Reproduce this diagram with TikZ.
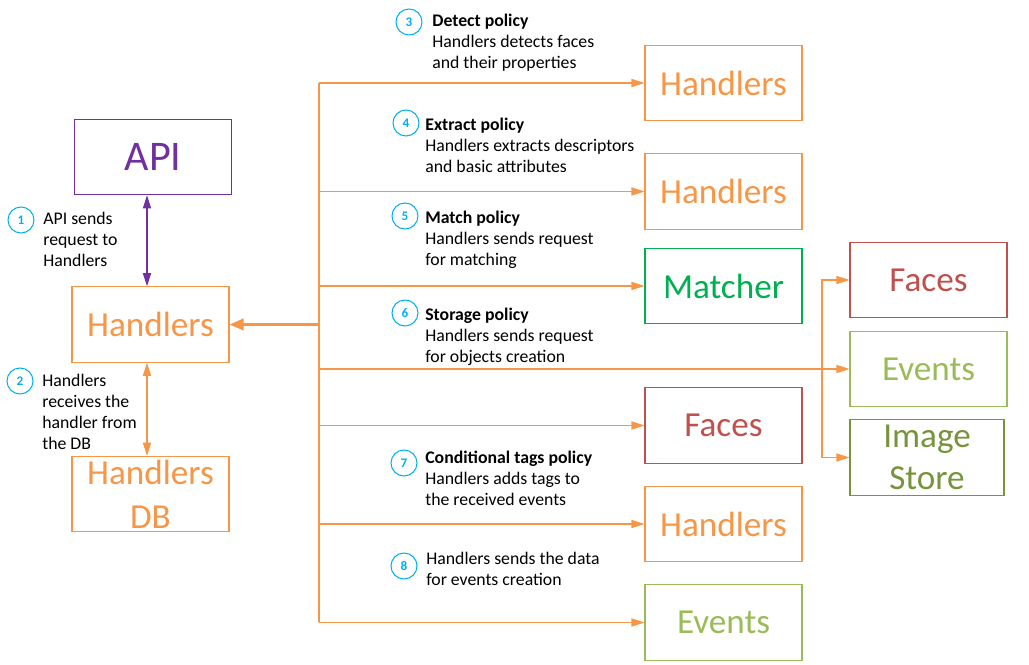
\documentclass[tikz,border=0pt]{standalone}
\usepackage{fontspec}
\setmainfont{Carlito}
\usetikzlibrary{positioning,arrows.meta,calc}
\definecolor{hnd}{HTML}{F79646}
\definecolor{apic}{HTML}{7030A0}
\definecolor{mtc}{HTML}{00B050}
\definecolor{fcs}{HTML}{C0504D}
\definecolor{evt}{HTML}{9BBB59}
\definecolor{imgc}{HTML}{77933C}
\definecolor{numc}{HTML}{00B0F0}
\tikzset{
  >={Triangle[length=7.4pt,width=4.6pt]},
  % --- nodes
  blk/.style   = {draw, line width=0.6pt, align=center, inner sep=0pt,
                  minimum width=3.14cm, minimum height=1.51cm,
                  font=\fontsize{20}{25}\selectfont},
  ablk/.style  = {blk, draw=apic, text=apic, font=\fontsize{24}{28}\selectfont},
  hblk/.style  = {blk, draw=hnd, text=hnd},
  mblk/.style  = {blk, draw=mtc, text=mtc},
  fblk/.style  = {blk, draw=fcs, text=fcs},
  eblk/.style  = {blk, draw=evt, text=evt},
  iblk/.style  = {blk, draw=imgc, text=imgc, font=\fontsize{20}{23.5}\selectfont},
  stepno/.style= {circle, draw=numc, text=numc, line width=0.6pt, minimum size=0.52cm,
                  inner sep=0pt, font=\fontsize{7.5}{8}\selectfont\bfseries},
  lbl/.style   = {anchor=north west, align=left, inner sep=0pt,
                  font=\fontsize{10.1}{12}\selectfont},
  % --- edges
  eline/.style = {draw=hnd, line width=0.6pt},
  e/.style     = {->, eline},
  ed/.style    = {<->, eline},
  ethick/.style= {draw=hnd, line width=1.5pt, -{Triangle[length=8pt,width=6.5pt]}},
  ep/.style    = {<->, draw=apic, line width=0.6pt},
}
\begin{document}
\begin{tikzpicture}[x=0.02cm, y=-0.02cm]
  \useasboundingbox (0,0) rectangle (1029,665);

  % left column
  \node[ablk] (api) at (153,157) {API};
  \node[hblk] (hnd) at (150.5,324.5) {Handlers};
  \node[hblk] (hdb) at (150.5,494) {Handlers\\DB};

  % policy targets
  \node[hblk] (hnd3) at (723.5,83) {Handlers};
  \node[hblk] (hnd4) at (723.5,191.5) {Handlers};
  \node[mblk] (mat)  at (723.5,286) {Matcher};
  \node[fblk] (fcs6) at (723.5,425.5) {Faces};
  \node[hblk] (hnd7) at (723.5,524) {Handlers};
  \node[eblk] (evt8) at (723.5,622.5) {Events};

  % storage
  \node[fblk] (fcsS) at (928.5,280) {Faces};
  \node[eblk] (evtS) at (928.5,369) {Events};
  \node[iblk, minimum width=3.08cm] (imgS) at (927,457.5) {Image\\Store};

  % numbers and notes
  \node[stepno] (n1) at (21,220) {1};
  \node[lbl] (t1) at (43,212) {API sends\\request to\\Handlers};
  \node[stepno] (n2) at (20,381) {2};
  \node[lbl] (t2) at (42,374) {Handlers\\receives the\\handler from\\the DB};
  \node[stepno] (n3) at (409,22) {3};
  \node[lbl] (t3) at (432,14) {\textbf{Detect policy}\\Handlers detects faces\\and their properties};
  \node[stepno] (n4) at (406,123) {4};
  \node[lbl] (t4) at (425,118) {\textbf{Extract policy}\\Handlers extracts descriptors\\and basic attributes};
  \node[stepno] (n5) at (405,216) {5};
  \node[lbl] (t5) at (425,211) {\textbf{Match policy}\\Handlers sends request\\for matching};
  \node[stepno] (n6) at (405,313) {6};
  \node[lbl] (t6) at (425,308) {\textbf{Storage policy}\\Handlers sends request\\for objects creation};
  \node[stepno] (n7) at (404,463) {7};
  \node[lbl] (t7) at (425,451) {\textbf{Conditional tags policy}\\Handlers adds tags to\\the received events};
  \node[stepno] (n8) at (404,566) {8};
  \node[lbl] (t8) at (426,552) {Handlers sends the data\\for events creation};

  % connectors
  \coordinate (ax) at (147,0);
  \coordinate (bus) at (319,0);
  \coordinate (br) at (822,0);
  \draw[ep] (api.south -| ax) -- (hnd.north -| ax);
  \draw[ed] (hnd.south -| ax) -- (hdb.north -| ax);
  \draw[eline] (bus |- hnd3.west) -- (bus |- evt8.west);
  \foreach \n in {hnd3,hnd4,mat,fcs6,hnd7,evt8}
    \draw[e] (bus |- \n.west) -- (\n.west);
  \draw[ethick] (bus |- hnd.east) -- (hnd.east);
  \draw[e] (bus |- evtS.west) -- (evtS.west);
  \draw[e] (br |- evtS.west) |- (fcsS.west);
  \draw[e] (br |- evtS.west) |- (imgS.west);
\end{tikzpicture}
\end{document}
